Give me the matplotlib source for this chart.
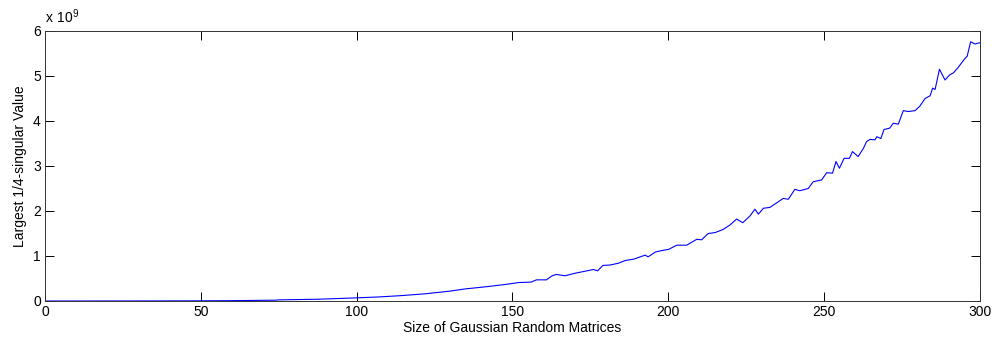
import numpy as np
import matplotlib
matplotlib.use('Agg')
import matplotlib.pyplot as plt

plt.rcParams['font.family'] = ['Liberation Sans', 'DejaVu Sans']

# values (y in units of 1e9)
n = [0, 25, 50, 60, 74, 75, 88, 100, 107, 114, 122, 130, 135, 142, 148, 152,
     156, 157.7, 160.9, 162.6, 164, 166.9, 169.6, 173.9, 176, 177.3, 179, 181.4,
     184, 186.2, 188.9, 192.6, 193.5, 195.9, 198.6, 200.2, 202.7, 205.9, 209.1,
     210.7, 212.8, 215, 217.6, 219.8, 221.9, 223.9, 226.2, 227.8, 228.9, 230.5,
     232.6, 236.9, 238.5, 240.6, 242.2, 244.9, 246.5, 249.2, 250.8, 252.7, 253.8,
     254.9, 256.4, 258.1, 259.1, 260.9, 262.6, 263.6, 264.7, 266.3, 266.9, 268.2,
     269.2, 271, 272.2, 273.8, 275.4, 277, 279.2, 280.7, 282.4, 284, 284.8, 285.6,
     287, 288.8, 290.2, 291.5, 293, 295.2, 295.9, 297, 298.4, 300]
val = [0, 0.001, 0.004, 0.008, 0.018, 0.025, 0.04, 0.07, 0.09, 0.118, 0.16, 0.22,
       0.27, 0.32, 0.37, 0.41,
       0.42, 0.47, 0.47, 0.556, 0.59, 0.56, 0.61, 0.67, 0.70, 0.67, 0.79, 0.80,
       0.84, 0.90, 0.93, 1.02, 0.98, 1.09, 1.13, 1.15, 1.24, 1.24, 1.37,
       1.36, 1.50, 1.52, 1.59, 1.69, 1.82, 1.74, 1.89, 2.04, 1.93, 2.06,
       2.08, 2.28, 2.26, 2.48, 2.45, 2.50, 2.65, 2.69, 2.85, 2.84, 3.10,
       2.95, 3.17, 3.17, 3.32, 3.21, 3.39, 3.54, 3.59, 3.58, 3.65, 3.61,
       3.81, 3.84, 3.95, 3.93, 4.23, 4.21, 4.23, 4.33, 4.50, 4.56, 4.73, 4.70,
       5.15, 4.91, 5.02, 5.07, 5.19, 5.39, 5.44, 5.76, 5.71, 5.74]

y = np.array(val) * 1e9

fig = plt.figure(figsize=(9.95, 3.44), dpi=100)
ax = fig.add_axes([0.0452, 0.125, 0.9397, 0.785])
ax.plot(n, y, color='#0000ff', linewidth=0.8)

ax.set_xlim(0, 300)
ax.set_ylim(0, 6e9)
ax.set_xticks([0, 50, 100, 150, 200, 250, 300])
ax.set_yticks(np.arange(0, 7) * 1e9)
ax.set_yticklabels([str(i) for i in range(7)])
ax.tick_params(direction='in', length=6.5, width=0.7, top=True, right=True,
               labelsize=10, colors='#000000', pad=3)
for s in ax.spines.values():
    s.set_linewidth(0.7)
    s.set_color('#333333')

ax.set_xlabel('Size of Gaussian Random Matrices', fontsize=10, labelpad=1)
ax.set_ylabel('Largest 1/4-singular Value', fontsize=10, labelpad=4)

# multiplier text like matlab
ax.text(0.0, 1.02, r'$\mathregular{x\ 10^{9}}$', transform=ax.transAxes,
        fontsize=10, ha='left', va='bottom')

plt.savefig('out.png', dpi=100)
